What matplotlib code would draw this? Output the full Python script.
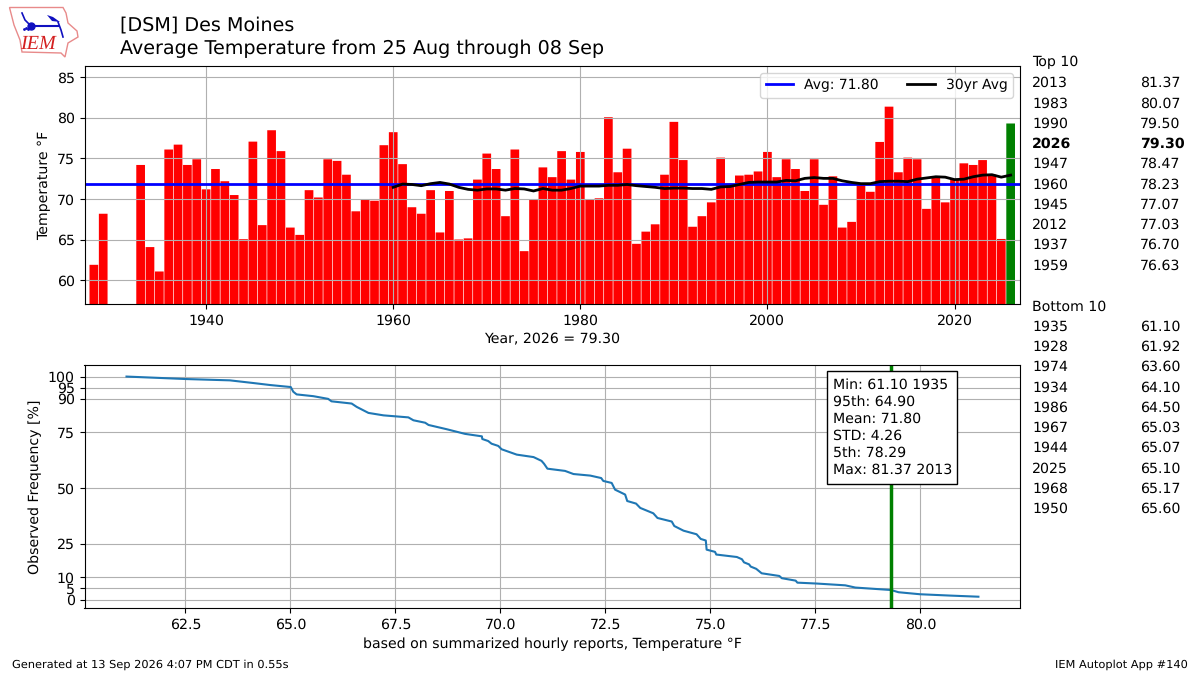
import matplotlib
matplotlib.use('Agg')
import matplotlib.pyplot as plt
from matplotlib.patches import Polygon, Rectangle

plt.rcParams['text.hinting'] = 'no_hinting'
plt.rcParams['font.size'] = 10.16

# yearly average temperature
years = [1928, 1929] + list(range(1933, 2027))
temps = [61.92, 68.2,
         74.2, 64.10, 61.10, 76.1, 76.70, 74.2, 74.9,
         71.2, 73.7, 72.2, 70.5, 65.07, 77.07, 66.8, 78.47, 75.9, 66.5,
         65.60, 71.1, 70.2, 74.9, 74.7, 73.0, 68.5, 69.9, 69.8, 76.63,
         78.23, 74.3, 69.0, 68.2, 71.1, 65.9, 71.0, 65.03, 65.17, 72.4,
         75.6, 73.7, 67.9, 76.1, 63.60, 70.0, 73.9, 72.7, 75.9, 72.4,
         75.8, 69.9, 70.1, 80.07, 73.3, 76.2, 64.50, 66.0, 66.9, 73.0,
         79.50, 74.8, 66.6, 67.9, 69.6, 75.1, 71.9, 72.9, 73.0, 73.4,
         75.8, 72.7, 74.9, 73.7, 71.0, 74.9, 69.3, 72.8, 66.5, 67.2,
         71.8, 70.9, 77.03, 81.37, 73.3, 75.1, 74.9, 68.8, 72.7, 69.6,
         72.4, 74.4, 74.2, 74.8, 73.0, 65.10, 79.30]

# 30 year trailing average
avg_years = list(range(1960, 2027))
avg_30yr = [71.45, 71.85, 71.8, 71.65, 71.9, 72.05, 71.85, 71.45, 71.2, 71.1,
            71.25, 71.25, 71.1, 71.3, 71.25, 71.0, 71.3, 71.1, 71.1, 71.3,
            71.6, 71.6, 71.6, 71.7, 71.7, 71.8, 71.65, 71.55, 71.45, 71.3,
            71.35, 71.35, 71.3, 71.3, 71.2, 71.5, 71.55, 71.8, 72.05, 72.1,
            72.1, 72.1, 72.3, 72.25, 72.55, 72.65, 72.55, 72.55, 72.25, 72.05,
            71.9, 71.9, 72.15, 72.2, 72.2, 72.15, 72.45, 72.6, 72.75, 72.7,
            72.4, 72.45, 72.75, 72.95, 73.0, 72.7, 72.95]

# exceedance curve
freq_temp = [61.10, 61.74, 62.5, 63.56, 64.12, 64.52, 65.01, 65.07, 65.15, 65.55,
             65.9, 65.98, 66.46, 66.58, 66.86, 67.22, 67.81, 67.93, 68.21, 68.29,
             68.72, 69.16, 69.56, 69.57, 69.71, 69.79, 69.95, 70.03, 70.39, 70.79,
             70.98, 71.04, 71.12, 71.54, 71.74, 72.14, 72.4, 72.45, 72.65, 72.73,
             72.97, 73.02, 73.23, 73.33, 73.64, 73.74, 74.08, 74.14, 74.36, 74.67,
             74.77, 74.89, 74.91, 75.11, 75.14, 75.63, 75.75, 75.8, 75.92, 75.96,
             76.09, 76.22, 76.64, 76.7, 77.03, 77.07, 77.53, 78.21, 78.45, 79.3,
             79.48, 79.99, 80.71, 81.38]
freq_pct = [100.0, 99.5, 98.9, 98.3, 97.1, 96.2, 95.3, 93.2, 92.0, 91.2,
            90.0, 88.9, 87.9, 86.4, 83.7, 82.6, 81.7, 80.4, 79.3, 78.3,
            76.4, 74.3, 73.2, 72.0, 71.1, 69.9, 68.9, 67.4, 65.0, 63.9,
            62.2, 60.9, 58.7, 57.7, 56.3, 55.6, 54.5, 53.2, 52.3, 49.3,
            47.1, 44.2, 43.05, 41.1, 38.7, 36.6, 35.0, 33.0, 30.9, 29.3,
            27.2, 26.5, 22.4, 21.4, 20.2, 19.1, 18.1, 16.7, 15.8, 14.8,
            13.8, 11.8, 10.6, 9.6, 8.5, 7.6, 7.2, 6.4, 5.4, 4.3,
            3.3, 2.4, 1.8, 1.3]

freq_ticks = [100, 95, 90, 75, 50, 25, 10, 5, 0]
freq_labels = ['100', '95', '90', '75', '50', '25', '10', '5', '0']

top_years = ['2013', '1983', '1990', '2026', '1947', '1960', '1945', '2012', '1937', '1959']
top_vals = ['81.37', '80.07', '79.50', '79.30', '78.47', '78.23', '77.07', '77.03', '76.70', '76.63']
bottom_years = ['1935', '1928', '1974', '1934', '1986', '1967', '1944', '2025', '1968', '1950']
bottom_vals = ['61.10', '61.92', '63.60', '64.10', '64.50', '65.03', '65.07', '65.10', '65.17', '65.60']

this_year = 2026
this_val = 79.30
mean_val = 71.80

W, H = 1200, 675
fig = plt.figure(figsize=(12, 6.75), dpi=100)


def px_rect(x0, y0, x1, y1):
    # pixel box (y down) to figure fractions
    return [x0 / W, 1 - y1 / H, (x1 - x0) / W, (y1 - y0) / H]


# Top panel
ax1 = fig.add_axes(px_rect(84.5, 66, 1020, 304))
colors = ['green' if y == this_year else 'red' for y in years]
# no snapping, so the bar sides fade to pink like the original
ax1.bar(years, temps, width=0.93, color=colors, snap=False)
ax1.axhline(mean_val, color='blue', lw=2, label='Avg: %.2f' % mean_val)
ax1.plot(avg_years, avg_30yr, color='k', lw=2, label='30yr Avg')
ax1.set_xlim(1927.0, 2027.0)
ax1.set_ylim(57.1, 86.37)
ax1.set_xticks([1940, 1960, 1980, 2000, 2020])
ax1.set_yticks([60, 65, 70, 75, 80, 85])
ax1.grid(True)
ax1.set_ylabel('Temperature °F')
ax1.set_xlabel('Year, 2026 = 79.30')
ax1.legend(loc='upper right', ncol=2, fontsize=10)

# Bottom panel
ax2 = fig.add_axes(px_rect(84.5, 365.3, 1020, 608.3))
ax2.plot(freq_temp, freq_pct)
ax2.axvline(this_val, color='green', lw=2.5)
ax2.set_xlim(60.1, 82.37)
ax2.set_ylim(-3.9, 105.05)
ax2.set_yticks(freq_ticks)
ax2.set_yticklabels(freq_labels)
ax2.set_xticks([62.5, 65, 67.5, 70, 72.5, 75, 77.5, 80])
ax2.grid(True)
ax2.set_ylabel('Observed Frequency [%]')
ax2.set_xlabel('based on summarized hourly reports, Temperature °F')
# stats box, the frame is taller than a text bbox would make it
ax2.add_patch(Rectangle((0.7942, 0.5115), 0.1382, 0.465, transform=ax2.transAxes,
                        fc='white', ec='k', lw=1, zorder=5))
ax2.text(0.8004, 0.949,
         'Min: 61.10 1935\n95th: 64.90\nMean: 71.80\nSTD: 4.26\n5th: 78.29\nMax: 81.37 2013',
         transform=ax2.transAxes, va='top', ha='left', zorder=6, linespacing=1.33)

# Titles
fig.text(120 / W, 1 - 25 / H, '[DSM] Des Moines', fontsize=13.8, va='center')
fig.text(120 / W, 1 - 48.5 / H, 'Average Temperature from 25 Aug through 08 Sep', fontsize=13.8, va='center')

# Ranked lists on the right
row = 20.25
fig.text(1032 / W, 1 - 62.5 / H, 'Top 10', va='center')
for i, (yr, val) in enumerate(zip(top_years, top_vals)):
    weight = 'bold' if yr == '2026' else 'normal'
    ypos = 1 - (83.3 + i * row) / H
    fig.text(1032 / W, ypos, yr, va='center', fontweight=weight)
    fig.text(1140 / W, ypos, val, va='center', fontweight=weight)
fig.text(1032 / W, 1 - 306.5 / H, 'Bottom 10', va='center')
for i, (yr, val) in enumerate(zip(bottom_years, bottom_vals)):
    ypos = 1 - (326.8 + i * row) / H
    fig.text(1032 / W, ypos, yr, va='center')
    fig.text(1140 / W, ypos, val, va='center')

# Footer
fig.text(12 / W, 1 - 665 / H, 'Generated at 13 Sep 2026 4:07 PM CDT in 0.55s', fontsize=8.2, va='center')
fig.text(1188 / W, 1 - 665 / H, 'IEM Autoplot App #140', fontsize=8.2, va='center', ha='right')

# Logo, drawn in pixel coordinates
logo = fig.add_axes([0, 0, 1, 1], facecolor='none')
logo.set_xlim(0, W)
logo.set_ylim(H, 0)
logo.axis('off')
outline = [(9.5, 7.5), (63, 7.5), (66, 13), (68, 23), (77, 31), (78, 37), (68, 43),
           (65, 57), (61, 53), (22, 52), (20, 40), (14, 25)]
logo.add_patch(Polygon(outline, closed=True, fc='white', ec='#e88a8a', lw=1))
logo.text(37.5, 44, 'IEM', family='Liberation Serif', style='italic', color='#d42020', fontsize=14.5,
          ha='center', va='center')
logo.plot([31, 58], [26, 26], color='#1010c0', lw=1.5)
logo.plot([22, 25, 31], [13, 20, 26], color='#1010c0', lw=1.2)
logo.plot([58, 61, 63], [22, 30, 37], color='#1010c0', lw=1.2)
logo.plot([31], [26], 'o', color='#1010c0', ms=5)
logo.plot([24, 26, 28], [29, 28, 29], '.', color='#1010c0', ms=2)
logo.add_patch(Polygon([(47, 15), (53, 17), (60, 22), (52, 21)], closed=True, fc='#1010c0', ec='none'))

fig.savefig('out.png', dpi=100)
